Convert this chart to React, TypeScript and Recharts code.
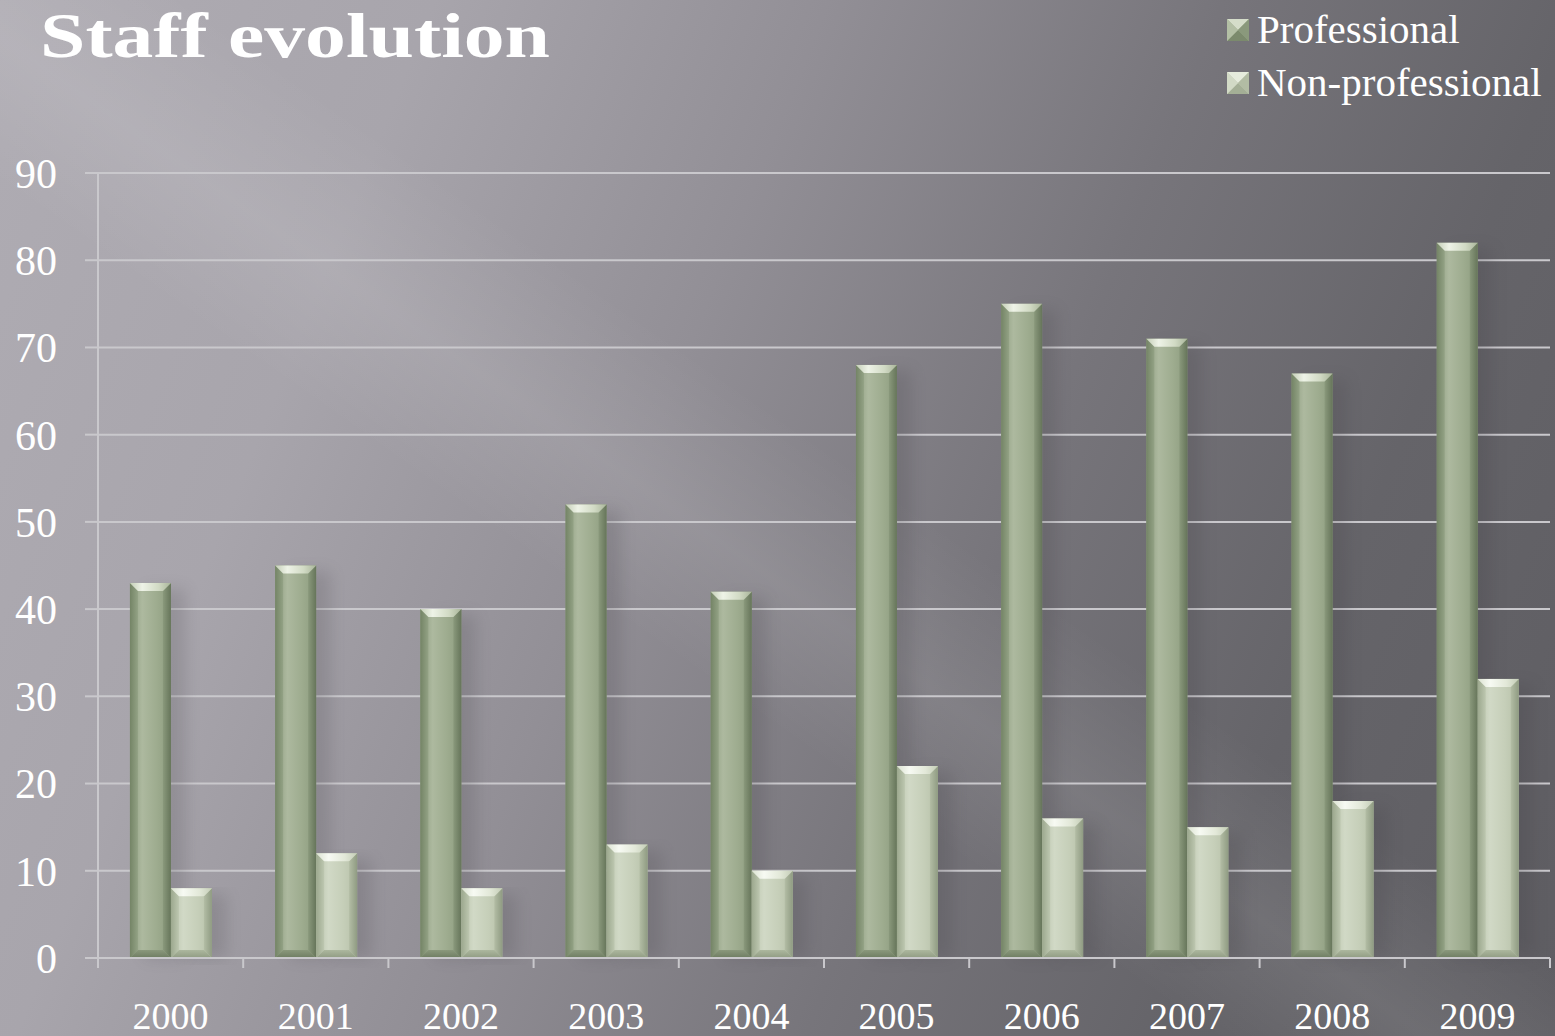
import React from 'react';
import { BarChart, Bar, XAxis, YAxis, CartesianGrid, Legend } from 'recharts';

const years = ['2000', '2001', '2002', '2003', '2004', '2005', '2006', '2007', '2008', '2009'];
const professional = [43, 45, 40, 52, 42, 68, 75, 71, 67, 82];
const nonProfessional = [8, 12, 8, 13, 10, 22, 16, 15, 18, 32];
const yTicks = [0, 10, 20, 30, 40, 50, 60, 70, 80, 90];
const seriesKeys = ['professional', 'nonProfessional'];
const seriesNames = { professional: 'Professional', nonProfessional: 'Non-professional' };
const title = 'Staff evolution';

const data = years.map((year, i) => ({
  year,
  professional: professional[i],
  nonProfessional: nonProfessional[i],
}));

const FONT = "'Liberation Serif', 'Times New Roman', serif";
const GRID = '#c9c8cc';
const X_TICK_GAP = 44;

const makeBarShape = (kind: string) => (props: any) => {
  const { x, y, width: w, height: h } = props;
  if (!(h > 0) || !(w > 0)) return <g />;
  const b = Math.min(8, h / 2, w / 4);
  return (
    <g>
      <rect x={x + w * 0.35} y={y + 6} width={w} height={h - 6} fill="#3c3a40" opacity={0.18} filter="url(#barShadow)" />
      <rect x={x} y={y} width={w} height={h} fill={`url(#body-${kind})`} />
      <polygon
        points={`${x},${y} ${x + b},${y + b} ${x + b},${y + h - b} ${x},${y + h}`}
        fill={`url(#left-${kind})`}
      />
      <polygon
        points={`${x + w},${y} ${x + w - b},${y + b} ${x + w - b},${y + h - b} ${x + w},${y + h}`}
        fill={`url(#right-${kind})`}
      />
      <polygon
        points={`${x},${y + h} ${x + b},${y + h - b} ${x + w - b},${y + h - b} ${x + w},${y + h}`}
        fill={`url(#bot-${kind})`}
      />
      <polygon
        points={`${x},${y} ${x + w},${y} ${x + w - b},${y + b} ${x + b},${y + b}`}
        fill={`url(#top-${kind})`}
      />
    </g>
  );
};

const XTick = (props: any) => {
  const { x, y, payload, index } = props;
  const half = payload && typeof payload.offset === 'number' && payload.offset > 0 ? payload.offset : 72.6;
  const axisY = y - X_TICK_GAP;
  return (
    <g>
      <line x1={x - half} x2={x - half} y1={axisY} y2={axisY + 10} stroke={GRID} strokeWidth={2} />
      {index === years.length - 1 && (
        <line x1={x + half} x2={x + half} y1={axisY} y2={axisY + 10} stroke={GRID} strokeWidth={2} />
      )}
      <text x={x} y={y} dy="0.71em" textAnchor="middle" fill="#ffffff" fontSize={38} fontFamily={FONT}>
        {payload.value}
      </text>
    </g>
  );
};

const LegendIcon = ({ kind }: { kind: string }) => (
  <svg width={22} height={22} style={{ display: 'block' }}>
    <rect x={0} y={0} width={22} height={22} fill={kind === 'pro' ? '#9aa88b' : '#c2cbb5'} />
    <polygon points="0,0 22,0 11,11" fill={kind === 'pro' ? '#d5ddca' : '#e6ecdd'} />
    <polygon points="0,22 22,22 11,11" fill={kind === 'pro' ? '#7b8a6d' : '#a4af96'} />
    <polygon points="0,0 11,11 0,22" fill={kind === 'pro' ? '#b3bfa5' : '#d2dac6'} />
    <polygon points="22,0 11,11 22,22" fill={kind === 'pro' ? '#8a997c' : '#b2bca4'} />
  </svg>
);

const renderLegend = (p: any) => {
  const items = [...((p && p.payload) || [])].sort(
    (a: any, b: any) => seriesKeys.indexOf(a.dataKey) - seriesKeys.indexOf(b.dataKey)
  );
  return (
    <div>
      {items.map((e: any, i: number) => (
        <div key={i} style={{ display: 'flex', alignItems: 'center', height: 53 }}>
          <LegendIcon kind={e.dataKey === 'professional' ? 'pro' : 'non'} />
          <span
            style={{
              marginLeft: 8,
              color: '#ffffff',
              fontFamily: FONT,
              fontSize: 41,
              lineHeight: '53px',
              whiteSpace: 'nowrap',
            }}
          >
            {e.value}
          </span>
        </div>
      ))}
    </div>
  );
};

const Defs = () => (
  <svg width={0} height={0} style={{ position: 'absolute' }}>
    <defs>
      <filter id="barShadow" x="-50%" y="-10%" width="200%" height="120%">
        <feGaussianBlur stdDeviation="8" />
      </filter>
      <linearGradient id="body-pro" x1="0" y1="0" x2="1" y2="0">
        <stop offset="0%" stopColor="#8d9c7f" />
        <stop offset="30%" stopColor="#adb99f" />
        <stop offset="65%" stopColor="#9eac8f" />
        <stop offset="100%" stopColor="#8c9b7e" />
      </linearGradient>
      <linearGradient id="left-pro" x1="0" y1="0" x2="1" y2="0">
        <stop offset="0%" stopColor="#748466" />
        <stop offset="100%" stopColor="#93a285" />
      </linearGradient>
      <linearGradient id="right-pro" x1="0" y1="0" x2="1" y2="0">
        <stop offset="0%" stopColor="#8a997c" />
        <stop offset="100%" stopColor="#66755a" />
      </linearGradient>
      <linearGradient id="top-pro" x1="0" y1="0" x2="1" y2="0">
        <stop offset="0%" stopColor="#c4ceb7" />
        <stop offset="30%" stopColor="#eef3e7" />
        <stop offset="70%" stopColor="#d1dac4" />
        <stop offset="100%" stopColor="#a9b59a" />
      </linearGradient>
      <linearGradient id="bot-pro" x1="0" y1="0" x2="0" y2="1">
        <stop offset="0%" stopColor="#8a987c" />
        <stop offset="100%" stopColor="#6e7d62" />
      </linearGradient>

      <linearGradient id="body-non" x1="0" y1="0" x2="1" y2="0">
        <stop offset="0%" stopColor="#bac4ac" />
        <stop offset="30%" stopColor="#d1d9c6" />
        <stop offset="65%" stopColor="#c6cfb9" />
        <stop offset="100%" stopColor="#b6c0a8" />
      </linearGradient>
      <linearGradient id="left-non" x1="0" y1="0" x2="1" y2="0">
        <stop offset="0%" stopColor="#9ca88e" />
        <stop offset="100%" stopColor="#bdc7b0" />
      </linearGradient>
      <linearGradient id="right-non" x1="0" y1="0" x2="1" y2="0">
        <stop offset="0%" stopColor="#b3bda5" />
        <stop offset="100%" stopColor="#8f9b82" />
      </linearGradient>
      <linearGradient id="top-non" x1="0" y1="0" x2="1" y2="0">
        <stop offset="0%" stopColor="#dbe2d1" />
        <stop offset="30%" stopColor="#f7faf3" />
        <stop offset="70%" stopColor="#e2e8d8" />
        <stop offset="100%" stopColor="#c4cdb7" />
      </linearGradient>
      <linearGradient id="bot-non" x1="0" y1="0" x2="0" y2="1">
        <stop offset="0%" stopColor="#acb79e" />
        <stop offset="100%" stopColor="#909c83" />
      </linearGradient>
    </defs>
  </svg>
);

export default function App() {
  return (
    <div
      style={{
        position: 'fixed',
        left: 0,
        top: 0,
        width: 1555,
        height: 1036,
        overflow: 'hidden',
        background:
          'linear-gradient(35deg, rgba(255,255,255,0) 40%, rgba(255,255,255,0.09) 47%, rgba(255,255,255,0) 55%),' +
          'linear-gradient(112deg, #afacb3 0%, #a8a5ac 22%, #928f96 42%, #77757b 62%, #656469 80%, #5e5d62 100%)',
      }}
    >
      <Defs />
      <svg width={1555} height={80} style={{ position: 'absolute', left: 0, top: 0 }}>
        <text
          x={40}
          y={57}
          fill="#ffffff"
          fontFamily={FONT}
          fontWeight="bold"
          fontSize={64}
          textLength={510}
          lengthAdjust="spacingAndGlyphs"
        >
          {title}
        </text>
      </svg>
      <div style={{ position: 'absolute', left: 0, top: 0 }}>
        <BarChart
          width={1555}
          height={1036}
          data={data}
          margin={{ top: 173, right: 5, bottom: 0, left: 0 }}
          barCategoryGap="22%"
          barGap={0}
        >
          <CartesianGrid vertical={false} stroke={GRID} strokeWidth={2} />
          <XAxis
            dataKey="year"
            height={78}
            axisLine={{ stroke: GRID, strokeWidth: 2 }}
            tickLine={false}
            tickSize={0}
            tickMargin={X_TICK_GAP}
            tick={<XTick />}
            interval={0}
          />
          <YAxis
            width={98}
            domain={[0, 90]}
            ticks={yTicks}
            interval={0}
            axisLine={{ stroke: GRID, strokeWidth: 2 }}
            tickLine={{ stroke: GRID, strokeWidth: 2 }}
            tickSize={13}
            tickMargin={28}
            tick={{ fill: '#ffffff', fontSize: 42, fontFamily: FONT }}
          />
          <Legend
            layout="vertical"
            align="center"
            verticalAlign="middle"
            content={renderLegend}
            wrapperStyle={{ top: 3, left: 1227, width: 330, height: 110 }}
          />
          <Bar
            dataKey="professional"
            name={seriesNames.professional}
            fill="#9eac8f"
            shape={makeBarShape('pro')}
            isAnimationActive={false}
          />
          <Bar
            dataKey="nonProfessional"
            name={seriesNames.nonProfessional}
            fill="#c6cfb9"
            shape={makeBarShape('non')}
            isAnimationActive={false}
          />
        </BarChart>
      </div>
    </div>
  );
}
